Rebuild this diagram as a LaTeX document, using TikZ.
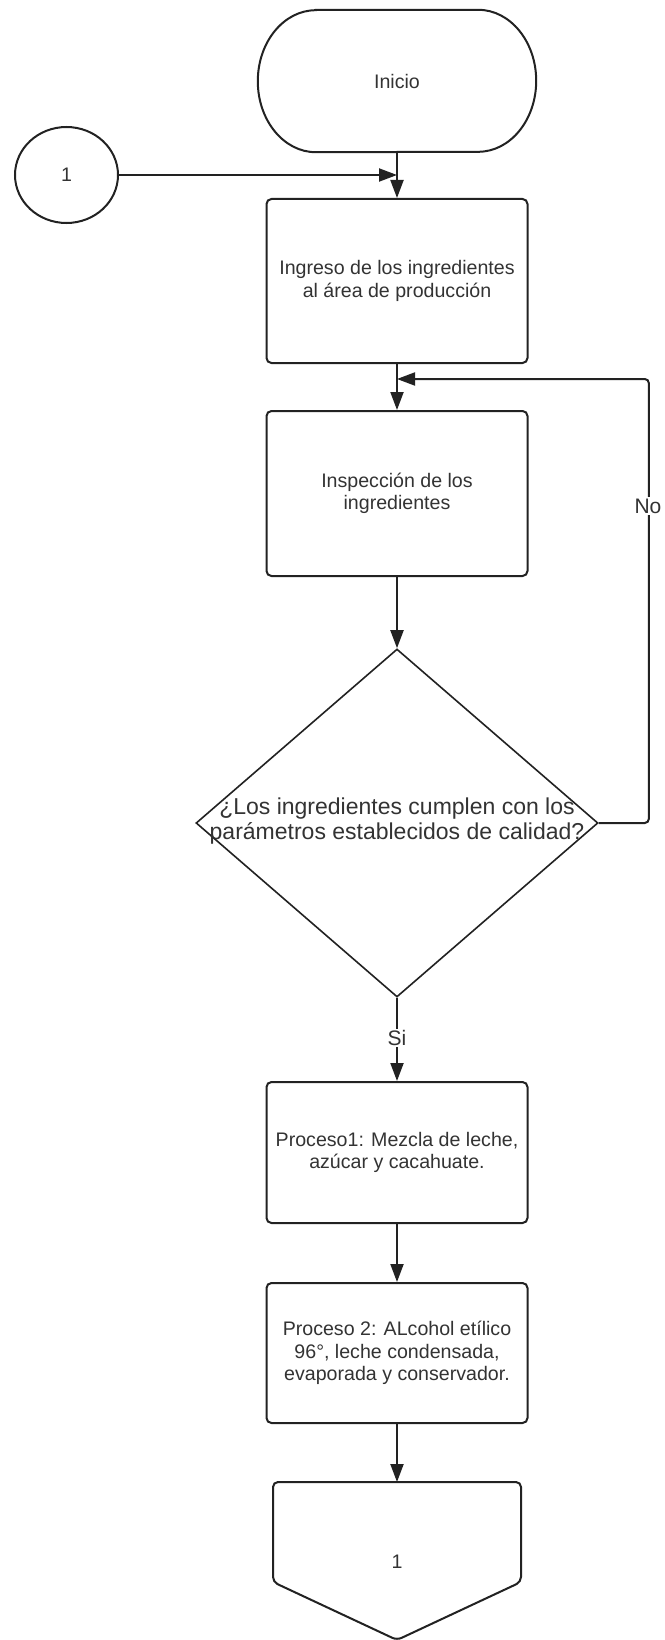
\documentclass[tikz,border=0pt]{standalone}
\usepackage{fontspec}
\setmainfont{Liberation Sans}
\usetikzlibrary{arrows.meta,shapes.geometric}
\definecolor{txt}{HTML}{333333}
\definecolor{ln}{HTML}{222222}
\begin{document}
\begin{tikzpicture}[x=1pt,y=1pt,
  box/.style={draw=ln, line width=2pt, rounded corners=5pt, minimum width=261pt, inner sep=0pt, align=center, text=txt, font=\fontsize{19.6}{22.5}\selectfont},
  conn/.style={draw=ln, line width=2pt, -{Triangle[length=18pt,width=13pt]}},
  plain/.style={draw=ln, line width=2pt},
  lbl/.style={fill=white, text=txt, font=\fontsize{21}{24}\selectfont, inner sep=1.5pt},
  txtnode/.style={text=txt, font=\fontsize{19.6}{22.5}\selectfont, inner sep=0pt}]
\useasboundingbox (0,0) rectangle (664,-1640);
\fill[white] (0,0) rectangle (664,-1640);

% Inicio terminator
\node[txtnode, minimum width=278pt, minimum height=142pt] (inicio) at (397,-81) {Inicio};
\draw[plain] ([xshift=58pt]inicio.north west) -- ([xshift=-58pt]inicio.north east)
  arc[start angle=90, end angle=-90, x radius=58pt, y radius=71pt]
  -- ([xshift=58pt]inicio.south west)
  arc[start angle=270, end angle=90, x radius=58pt, y radius=71pt] -- cycle;

% connector circle
\node[draw=ln, line width=2pt, ellipse, minimum width=103pt, minimum height=96pt, txtnode] (c1) at (66.5,-175) {1};
\coordinate (j1) at (397,-175);

% boxes
\node[box, minimum height=164pt] (r1) at (397,-281) {Ingreso de los ingredientes\\al área de producción};
\node[box, minimum height=165pt] (r2) at (397,-493.5) {Inspección de los\\ingredientes};
\coordinate (j2) at (397,-379);

% decision
\node[draw=ln, line width=1.6pt, diamond, minimum width=402pt, minimum height=348pt, inner sep=0pt] (d) at (397,-823) {};
\node[text=txt, align=center, font=\fontsize{23}{25}\selectfont, inner sep=0pt] (dt) at (397,-821) {¿Los ingredientes cumplen con los\\parámetros establecidos de calidad?};

\node[box, minimum height=141pt] (r3) at (397,-1152.5) {Proceso1: Mezcla de leche,\\azúcar y cacahuate.};
\node[box, minimum height=140pt] (r4) at (397,-1353) {Proceso 2: ALcohol etílico\\96°, leche condensada,\\evaporada y conservador.};

% off-page connector
\coordinate (op) at (397,-1482);
\draw[plain, rounded corners=5pt] (273,-1482) -- (521,-1482) -- (521,-1582) -- (397,-1640) -- (273,-1582) -- cycle;
\node[txtnode] (off) at (397,-1562) {1};

% connectors
\draw[conn] (c1.east) -- (j1);
\draw[conn] (inicio.south) -- (r1.north);
\draw[conn] (r1.south) -- (r2.north);
\draw[conn] (r2.south) -- (d.north);
\draw[conn, rounded corners=4pt] (d.east) -- ++(50,0) |- (j2);
\node[lbl] (no) at (648,-506) {No};
\node[lbl] (si) at (397,-1038) {Si};
\draw[plain] (d.south) -- (si.north);
\draw[conn] (si.south) -- (r3.north);
\draw[conn] (r3.south) -- (r4.north);
\draw[conn] (r4.south) -- (op);
\end{tikzpicture}
\end{document}
